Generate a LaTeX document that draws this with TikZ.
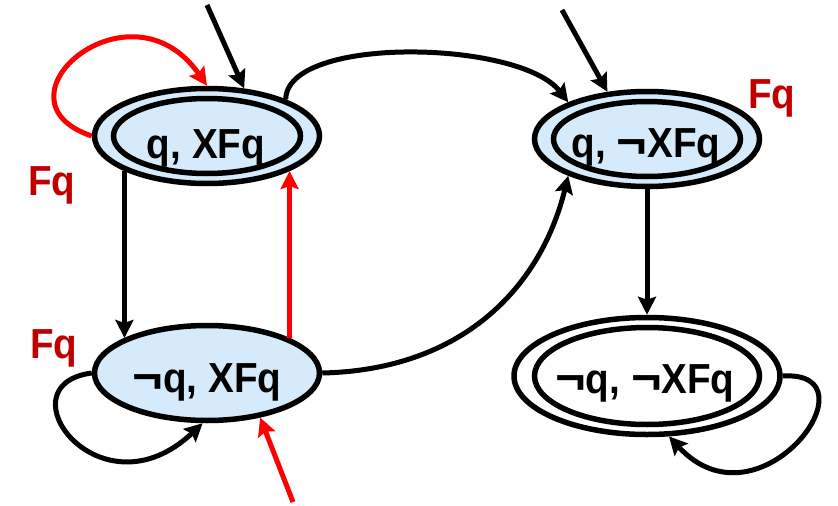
\documentclass[tikz,border=0pt]{standalone}
\usepackage{fontspec}
\usepackage{graphicx}
\setmainfont{Liberation Sans}[FakeStretch=0.92]
\usetikzlibrary{shapes.geometric,arrows.meta}
\definecolor{nodefill}{RGB}{213,234,250}
\definecolor{fqred}{RGB}{192,0,0}
\newcommand{\myneg}{\scalebox{1.35}[1.1]{¬}}
\begin{document}
\begin{tikzpicture}[x=1pt,y=-1pt,
  state/.style={ellipse,draw=black,line width=5.5pt,minimum width=225pt,minimum height=95pt,inner sep=0pt},
  ring/.style={draw=black,line width=5.5pt},
  lbl/.style={font=\fontsize{42}{42}\selectfont\bfseries,inner sep=0pt,anchor=base},
  fq/.style={font=\fontsize{42}{42}\selectfont\bfseries,text=fqred,inner sep=0pt,anchor=base west},
  edge/.style={line width=5pt,-{Stealth[length=18pt,width=18pt,inset=3pt]}},
]
\useasboundingbox (0,0) rectangle (838,506);
% states
\node[state,fill=nodefill] (n1) at (207,136) {};
\draw[ring] (n1.center) ellipse [x radius=93.5pt, y radius=37.5pt];
\node[state,fill=nodefill] (n2) at (647,139) {};
\draw[ring] (n2.center) ellipse [x radius=93.5pt, y radius=37.5pt];
\node[state,fill=nodefill] (n3) at (207,373) {};
\node[state,minimum width=266pt,minimum height=117pt] (n4) at (647,376) {};
\draw[ring] (n4.center) ellipse [x radius=112.5pt, y radius=48.5pt];
% texts
\node[lbl] (t1) at (206,158) {q, XFq};
\node[lbl] (t2) at (646,157) {q, \myneg XFq};
\node[lbl] (t3) at (207,392) {\myneg q, XFq};
\node[lbl] (t4) at (645,393) {\myneg q, \myneg XFq};
\node[fq] (f1) at (28,195) {Fq};
\node[fq] (f2) at (748,108) {Fq};
\node[fq] (f3) at (30,358) {Fq};
% free ends
\coordinate (i1) at (207,5);
\coordinate (i2) at (562,10);
\coordinate (i3) at (293,502);
% edges
\draw[edge] (i1) -- (n1.52);
\draw[edge] (i2) -- (n2.130);
\draw[edge,red] (i3) -- (n3.320);
\draw[edge,red] (n1.180) .. controls (-15,100) and (130,-25) .. (n1.90);
\draw[edge] (n1.25) .. controls (287,35) and (520,40) .. (n2.155);
\draw[edge] (n1.203) -- (n3.157);
\draw[edge,red] (n3.23) -- (n1.337);
\draw[edge] (n3.180) .. controls (0,385) and (100,520) .. (n3.265);
\draw[edge] (n3.0) .. controls (460,370) and (540,290) .. (n2.205);
\draw[edge] (n2.270) -- (n4.90);
\draw[edge] (n4.0) .. controls (880,370) and (760,535) .. (n4.290);
\end{tikzpicture}
\end{document}
